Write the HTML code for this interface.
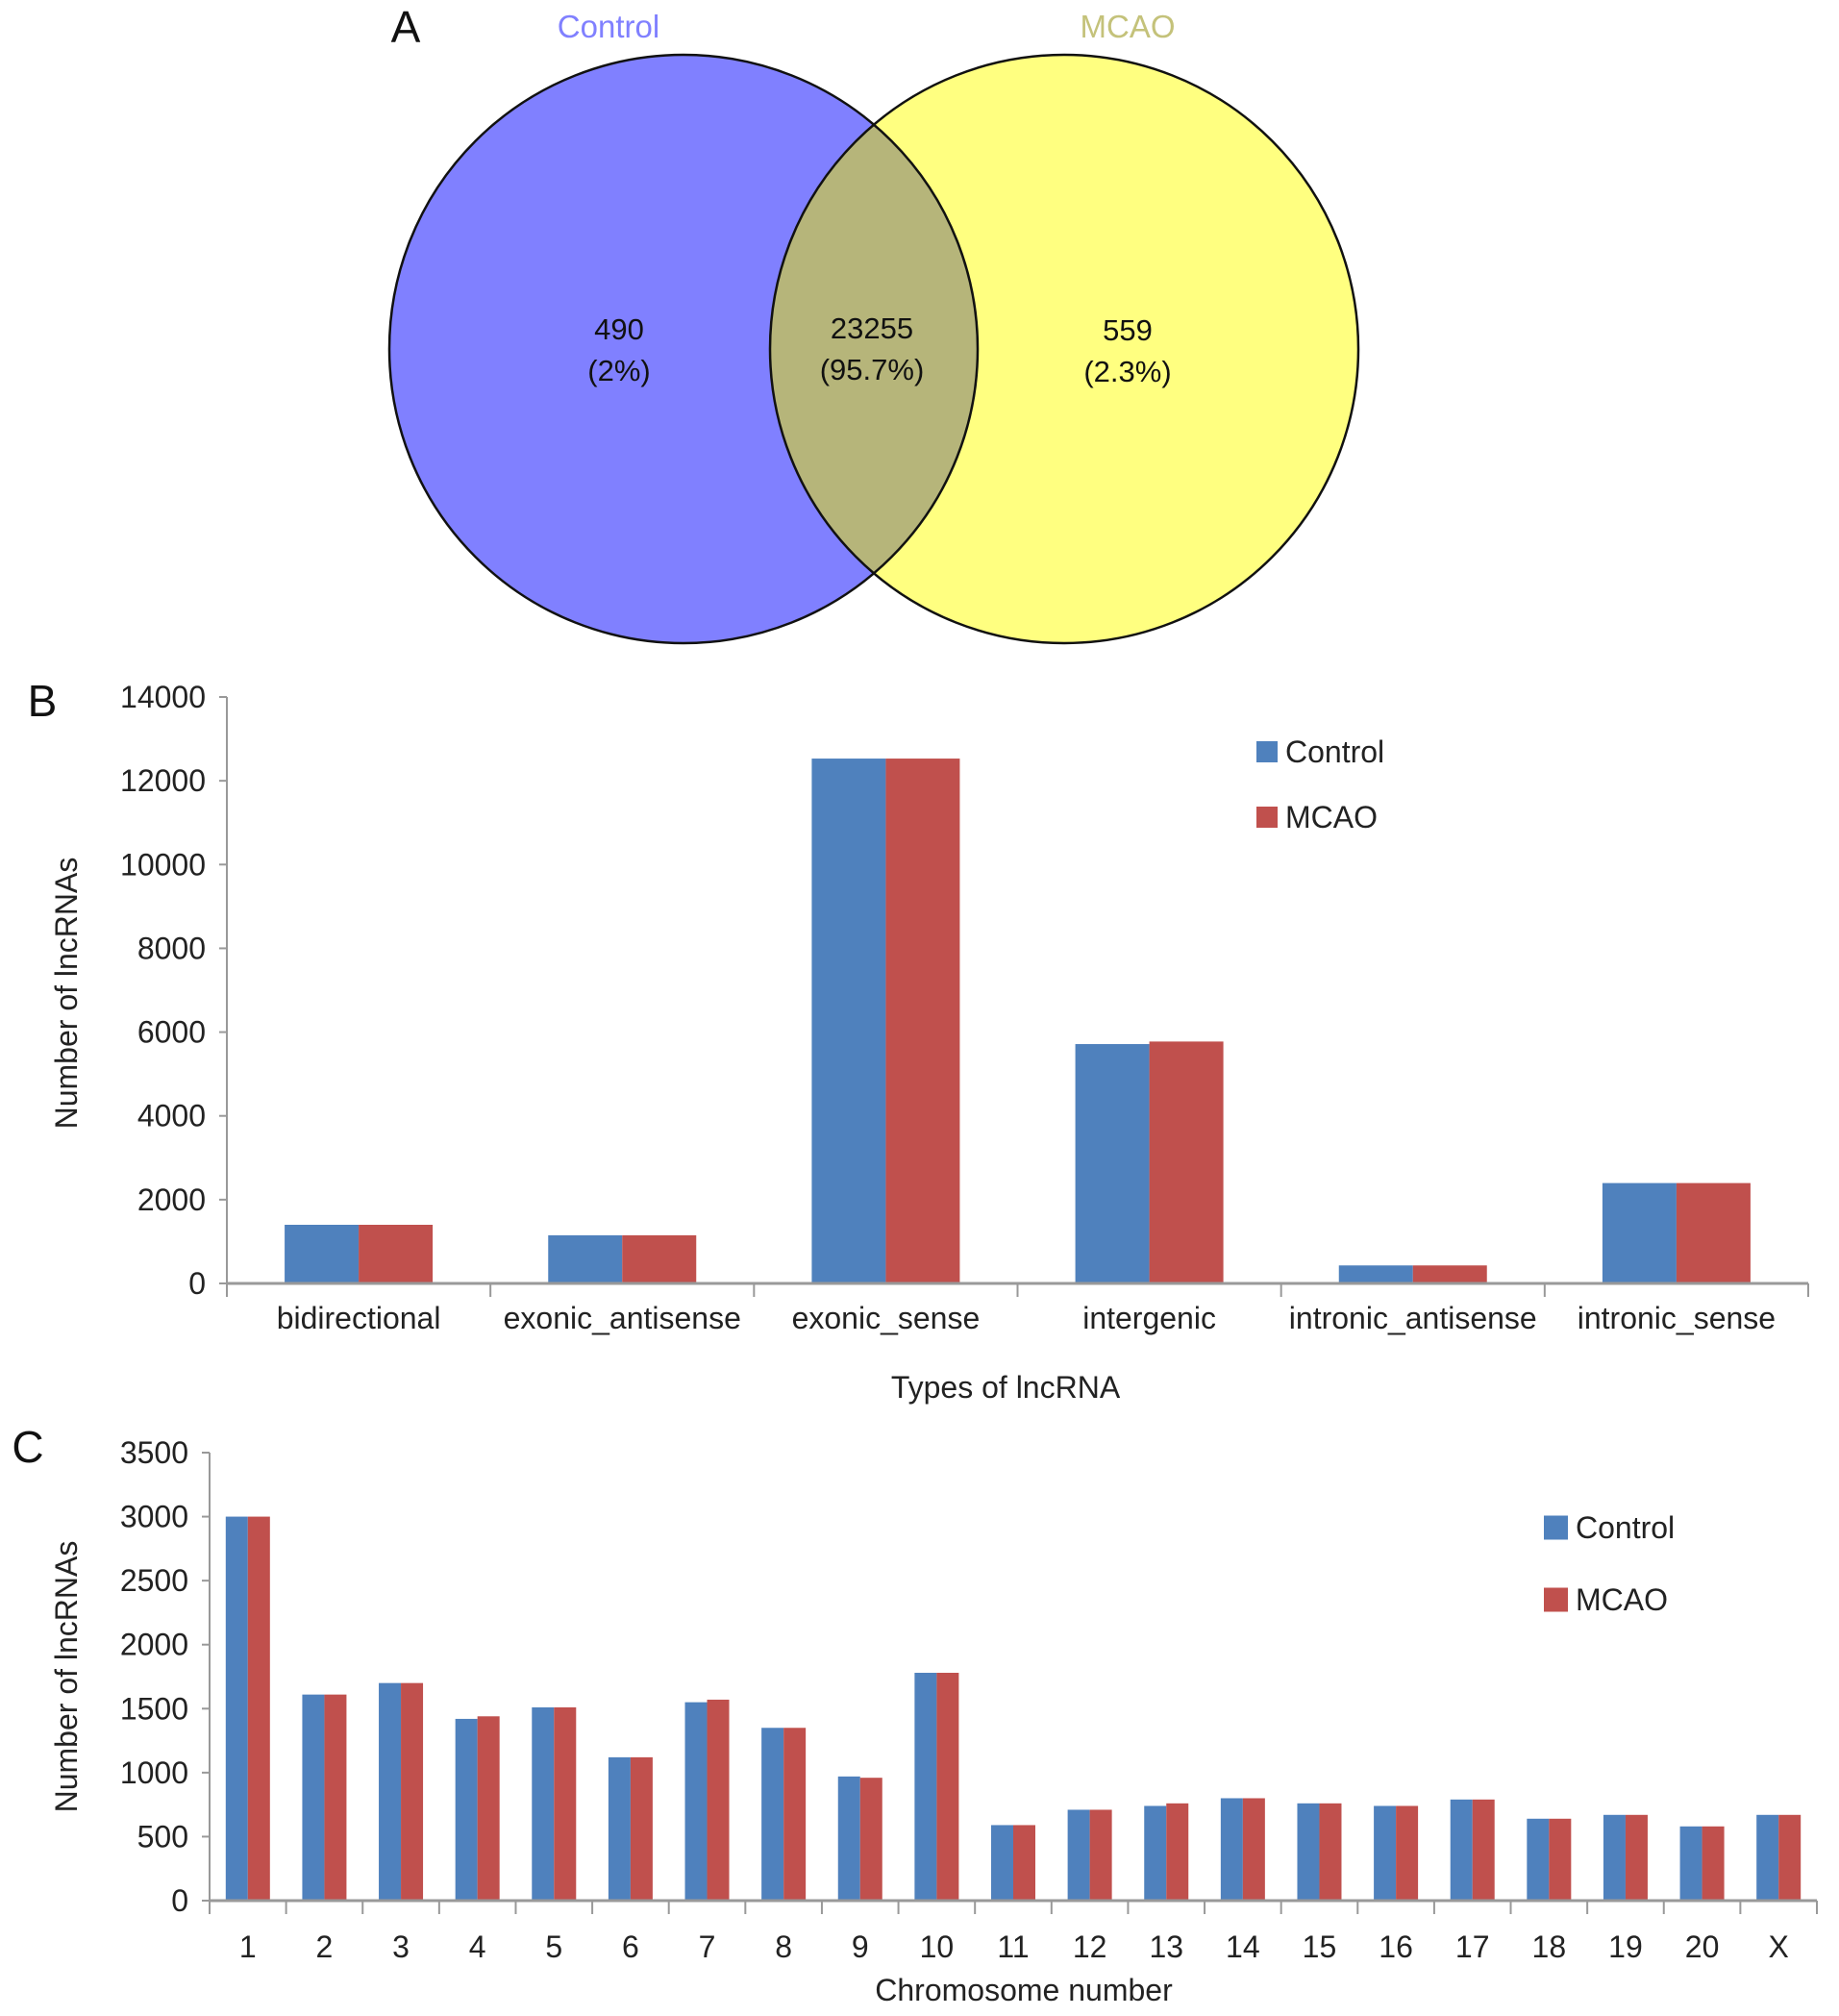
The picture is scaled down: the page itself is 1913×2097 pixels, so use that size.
<!DOCTYPE html>
<html><head><meta charset="utf-8">
<style>
html,body{margin:0;padding:0;background:#fff;}
svg{display:block;font-family:"Liberation Sans",Arial,sans-serif;}
</style></head>
<body>
<svg id="fig" width="1913" height="2097" viewBox="0 0 1913 2097">
  <defs><clipPath id="lc"><circle cx="711" cy="363" r="306"/></clipPath></defs>
  <g>
    <text x="422" y="44" font-size="46" fill="#111" text-anchor="middle">A</text>
    <circle cx="711" cy="363" r="306" fill="#8080ff"/>
    <circle cx="1107" cy="363" r="306" fill="#ffff80"/>
    <circle cx="1107" cy="363" r="306" fill="#b6b57a" clip-path="url(#lc)"/>
    <circle cx="711" cy="363" r="306" fill="none" stroke="#111" stroke-width="2.5"/>
    <circle cx="1107" cy="363" r="306" fill="none" stroke="#111" stroke-width="2.5"/>
    <text x="633" y="39" font-size="33" fill="#8080ff" text-anchor="middle">Control</text>
    <text x="1173" y="39" font-size="33" fill="#c4c27a" text-anchor="middle">MCAO</text>
    <g font-size="31" fill="#111" text-anchor="middle">
      <text x="644" y="353">490</text>
      <text x="644" y="396">(2%)</text>
      <text x="907" y="352">23255</text>
      <text x="907" y="395">(95.7%)</text>
      <text x="1173" y="354">559</text>
      <text x="1173" y="397">(2.3%)</text>
    </g>
  </g>
  <g id="chartB"></g>
  <g id="chartC"></g>
</svg>
<script>
const bCategories = ["bidirectional","exonic_antisense","exonic_sense","intergenic","intronic_antisense","intronic_sense"];
const bControl = [1400, 1150, 12530, 5714, 430, 2396];
const bMcao = [1400, 1150, 12530, 5775, 430, 2396];
const bTicks = [0,2000,4000,6000,8000,10000,12000,14000];

const cCategories = ["1","2","3","4","5","6","7","8","9","10","11","12","13","14","15","16","17","18","19","20","X"];
const cControl = [3000,1610,1700,1420,1510,1120,1550,1350,970,1780,590,710,740,800,760,740,790,640,670,580,670];
const cMcao = [3000,1610,1700,1440,1510,1120,1570,1350,960,1780,590,710,760,800,760,740,790,640,670,580,670];
const cTicks = [0,500,1000,1500,2000,2500,3000,3500];

const NS = "http://www.w3.org/2000/svg";
function mk(parent, tag, attrs, txt){
  const e = document.createElementNS(NS, tag);
  for (const k in attrs) e.setAttribute(k, attrs[k]);
  if (txt !== undefined) e.textContent = txt;
  parent.appendChild(e);
  return e;
}
function drawChart(g, cfg){
  const yScale = v => cfg.y0 - (v - 0) / cfg.max * (cfg.y0 - cfg.yTop);
  const cw = (cfg.x1 - cfg.x0) / cfg.cats.length;
  // y axis
  const ya = mk(g, "line", {x1:cfg.x0, y1:cfg.yTop, x2:cfg.x0, y2:cfg.y0 + 14, stroke:"#999", "stroke-width":2});
  
  
  cfg.ticks.forEach(t => {
    const y = yScale(t);
    mk(g, "line", {x1:cfg.x0 - 8, y1:y, x2:cfg.x0, y2:y, stroke:"#999", "stroke-width":2});
    const lb = mk(g, "text", {x:cfg.x0 - 22, y:y + 11, "font-size":cfg.fs, "text-anchor":"end", fill:"#222"}, String(t));
    
    
  });
  // bars
  cfg.cats.forEach((c, i) => {
    const cx = cfg.x0 + cw * (i + 0.5);
    const h1 = yScale(cfg.s1[i]), h2 = yScale(cfg.s2[i]);
    const b1 = mk(g, "rect", {x:cx - cfg.bw, y:h1, width:cfg.bw, height:cfg.y0 - h1, fill:"#4f81bd"});
    
    
    const b2 = mk(g, "rect", {x:cx, y:h2, width:cfg.bw, height:cfg.y0 - h2, fill:"#c0504d"});
    
    
    const xl = mk(g, "text", {x:cx, y:cfg.xLabelY, "font-size":cfg.fs, "text-anchor":"middle", fill:"#222"}, c);
    
    
  });
  for (let i = 0; i <= cfg.cats.length; i++) {
    const x = cfg.x0 + cw * i;
    mk(g, "line", {x1:x, y1:cfg.y0, x2:x, y2:cfg.y0 + 14, stroke:"#999", "stroke-width":2});
  }
  const xa = mk(g, "line", {x1:cfg.x0, y1:cfg.y0, x2:cfg.x1, y2:cfg.y0, stroke:"#999", "stroke-width":3});
  
  
  const xt = mk(g, "text", {x:cfg.xTitleX, y:cfg.xTitleY, "font-size":cfg.fs, "text-anchor":"middle", fill:"#222"}, cfg.xTitle);
  
  
  const yt = mk(g, "text", {x:0, y:0, "font-size":cfg.fs, "text-anchor":"middle", fill:"#222", transform:"translate(" + (cfg.yTitleX) + "," + cfg.yTitleY + ") rotate(-90)"}, "Number of lncRNAs");
  
  
  const pl = mk(g, "text", {x:cfg.plX, y:cfg.plY, "font-size":46, fill:"#111", "text-anchor":"middle"}, cfg.panel);
  
  
  // legend
  [["Control","#4f81bd",cfg.leg.y1],["MCAO","#c0504d",cfg.leg.y2]].forEach(([n,col,y]) => {
    const sq = mk(g, "rect", {x:cfg.leg.x, y:y - cfg.leg.sq/2, width:cfg.leg.sq, height:cfg.leg.sq, fill:col});
    
    
    const lt = mk(g, "text", {x:cfg.leg.x + cfg.leg.sq + 8, y:y + 11, "font-size":cfg.fs, fill:"#222"}, n);
    
    
  });
}
drawChart(document.getElementById("chartB"), {
  cats:bCategories, s1:bControl, s2:bMcao, ticks:bTicks, max:14000,
  x0:236, x1:1881, y0:1335, yTop:725, bw:77, fs:32, xLabelY:1382,
  xTitle:"Types of lncRNA", xTitleX:1046, xTitleY:1454, yTitleX:80, yTitleY:1033,
  panel:"B", plX:44, plY:745, leg:{x:1307, y1:782, y2:850, sq:22}
});
drawChart(document.getElementById("chartC"), {
  cats:cCategories, s1:cControl, s2:cMcao, ticks:cTicks, max:3500,
  x0:218, x1:1890, y0:1977, yTop:1511, bw:23, fs:32, xLabelY:2036,
  xTitle:"Chromosome number", xTitleX:1065, xTitleY:2081, yTitleX:80, yTitleY:1744,
  panel:"C", plX:29, plY:1521, leg:{x:1606, y1:1589, y2:1664, sq:25}
});
</script>
</body></html>
